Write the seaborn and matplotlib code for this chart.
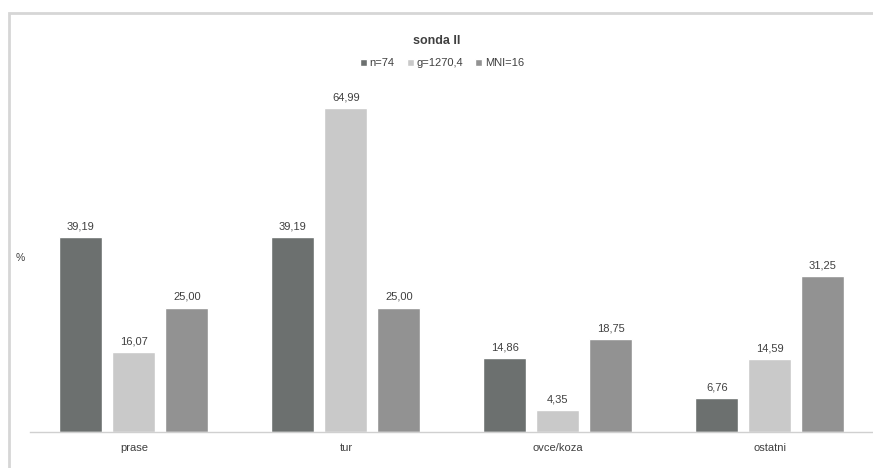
import seaborn as sns
import pandas as pd
import matplotlib.pyplot as plt
from matplotlib.patches import Rectangle

# data
categories = ['prase', 'tur', 'ovce/koza', 'ostatni']
series = ['n=74', 'g=1270,4', 'MNI=16']
n_vals = [39.19, 39.19, 14.86, 6.76]
g_vals = [16.07, 64.99, 4.35, 14.59]
mni_vals = [25.00, 25.00, 18.75, 31.25]
colors = ['#6c706f', '#c9c9c9', '#929292']

df = pd.DataFrame({
    'kategorie': categories * 3,
    'serie': [s for s in series for _ in categories],
    'procenta': n_vals + g_vals + mni_vals,
})

sns.set_style('white')
plt.rcParams['font.family'] = ['Liberation Sans', 'DejaVu Sans']
txt = '#404040'

fig = plt.figure(figsize=(8.73, 4.68), dpi=100)
ax = fig.add_axes([30 / 873, 1 - 432 / 468, 848 / 873, 337 / 468])

sns.barplot(data=df, x='kategorie', y='procenta', hue='serie',
            order=categories, hue_order=series, palette=colors,
            width=0.75, gap=0.19, saturation=1, ax=ax)

for cont in ax.containers:
    ax.bar_label(cont, labels=[f'{v:.2f}'.replace('.', ',') for v in cont.datavalues],
                 padding=4, fontsize=8, color=txt)

ax.set_xlim(-0.49, 3.51)
ax.set_ylim(0, 67.7)
ax.set_xlabel('')
ax.set_ylabel('')
ax.set_yticks([])
for s in ['top', 'right', 'left']:
    ax.spines[s].set_visible(False)
ax.spines['bottom'].set_color('#d0d0d0')
ax.spines['bottom'].set_linewidth(1)
ax.tick_params(axis='x', length=0, pad=8, labelsize=8, labelcolor=txt)

ax.legend(loc='center', bbox_to_anchor=(442 / 873, 1 - 63 / 468),
          bbox_transform=fig.transFigure, ncol=3, frameon=False,
          fontsize=8, handlelength=0.6, handleheight=0.6,
          handletextpad=0.25, columnspacing=1.1, labelcolor=txt)

fig.text(437 / 873, 1 - 41 / 468, 'sonda II', ha='center', va='center',
         fontsize=9, fontweight='bold', color=txt)
fig.text(20 / 873, 1 - 258 / 468, '%', ha='center', va='center',
         fontsize=7.5, color=txt)

# outer frame of the chart area (right and bottom edges fall outside)
fig.patches.append(Rectangle((9 / 873, -0.05), 1.2, 1 - 13 / 468 + 0.05,
                             transform=fig.transFigure, fill=False,
                             edgecolor='#d6d6d6', linewidth=2))

fig.savefig('out.png', dpi=100)
